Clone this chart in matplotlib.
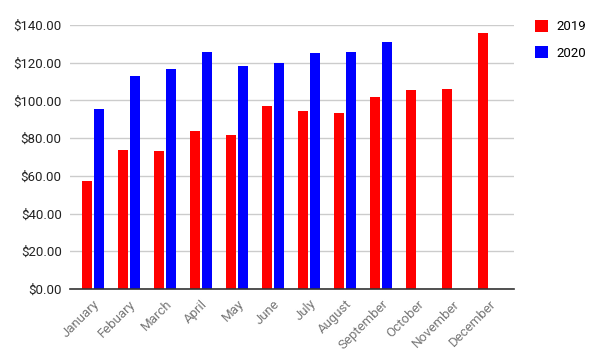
import matplotlib
matplotlib.use("Agg")
import matplotlib.pyplot as plt
import numpy as np

months = ["January", "Febuary", "March", "April", "May", "June", "July",
          "August", "September", "October", "November", "December"]
sales_2019 = [57.3, 73.7, 73.2, 83.8, 81.7, 97.0, 94.4, 93.3, 101.8, 105.5, 106.0, 135.7]
sales_2020 = [95.4, 113.0, 116.6, 125.7, 118.2, 119.8, 125.1, 125.7, 131.0]
yticks = [0, 20, 40, 60, 80, 100, 120, 140]

plt.rcParams['font.family'] = ['Roboto', 'DejaVu Sans']

fig = plt.figure(figsize=(6.02, 3.60), dpi=100)
ax = fig.add_axes([70/602, 1-289/360, 444/602, 264/360])

x = np.arange(len(months))
w = 0.28
off = 0.167
ax.bar(x - off, sales_2019, width=w, color="#ff0000", label="2019", zorder=3)
ax.bar(x[:len(sales_2020)] + off, sales_2020, width=w, color="#0000ff", label="2020", zorder=3)

ax.set_xlim(-0.64, 11.69)
ax.set_ylim(0, 140)
ax.set_yticks(yticks)
ax.set_yticklabels([f"${v:.2f}" for v in yticks], fontsize=9.5, color="#222222")
ax.set_xticks(x)
ax.set_xticklabels(months, rotation=45, ha="right", rotation_mode="anchor",
                   fontsize=9.5, color="#777777")
ax.tick_params(axis="both", length=0, pad=6)
ax.grid(axis="y", color="#cccccc", linewidth=1, zorder=0)
for s in ["top", "right", "left"]:
    ax.spines[s].set_visible(False)
ax.spines["bottom"].set_color("#333333")
ax.spines["bottom"].set_linewidth(1.2)
ax.spines["bottom"].set_zorder(4)

leg = fig.legend(loc="upper left", bbox_to_anchor=(523/602, 1-8/360), frameon=False,
                 fontsize=9.5, handlelength=1.0, handleheight=1.0, labelspacing=1.0,
                 handletextpad=0.6)

fig.savefig("out.png", dpi=100)
